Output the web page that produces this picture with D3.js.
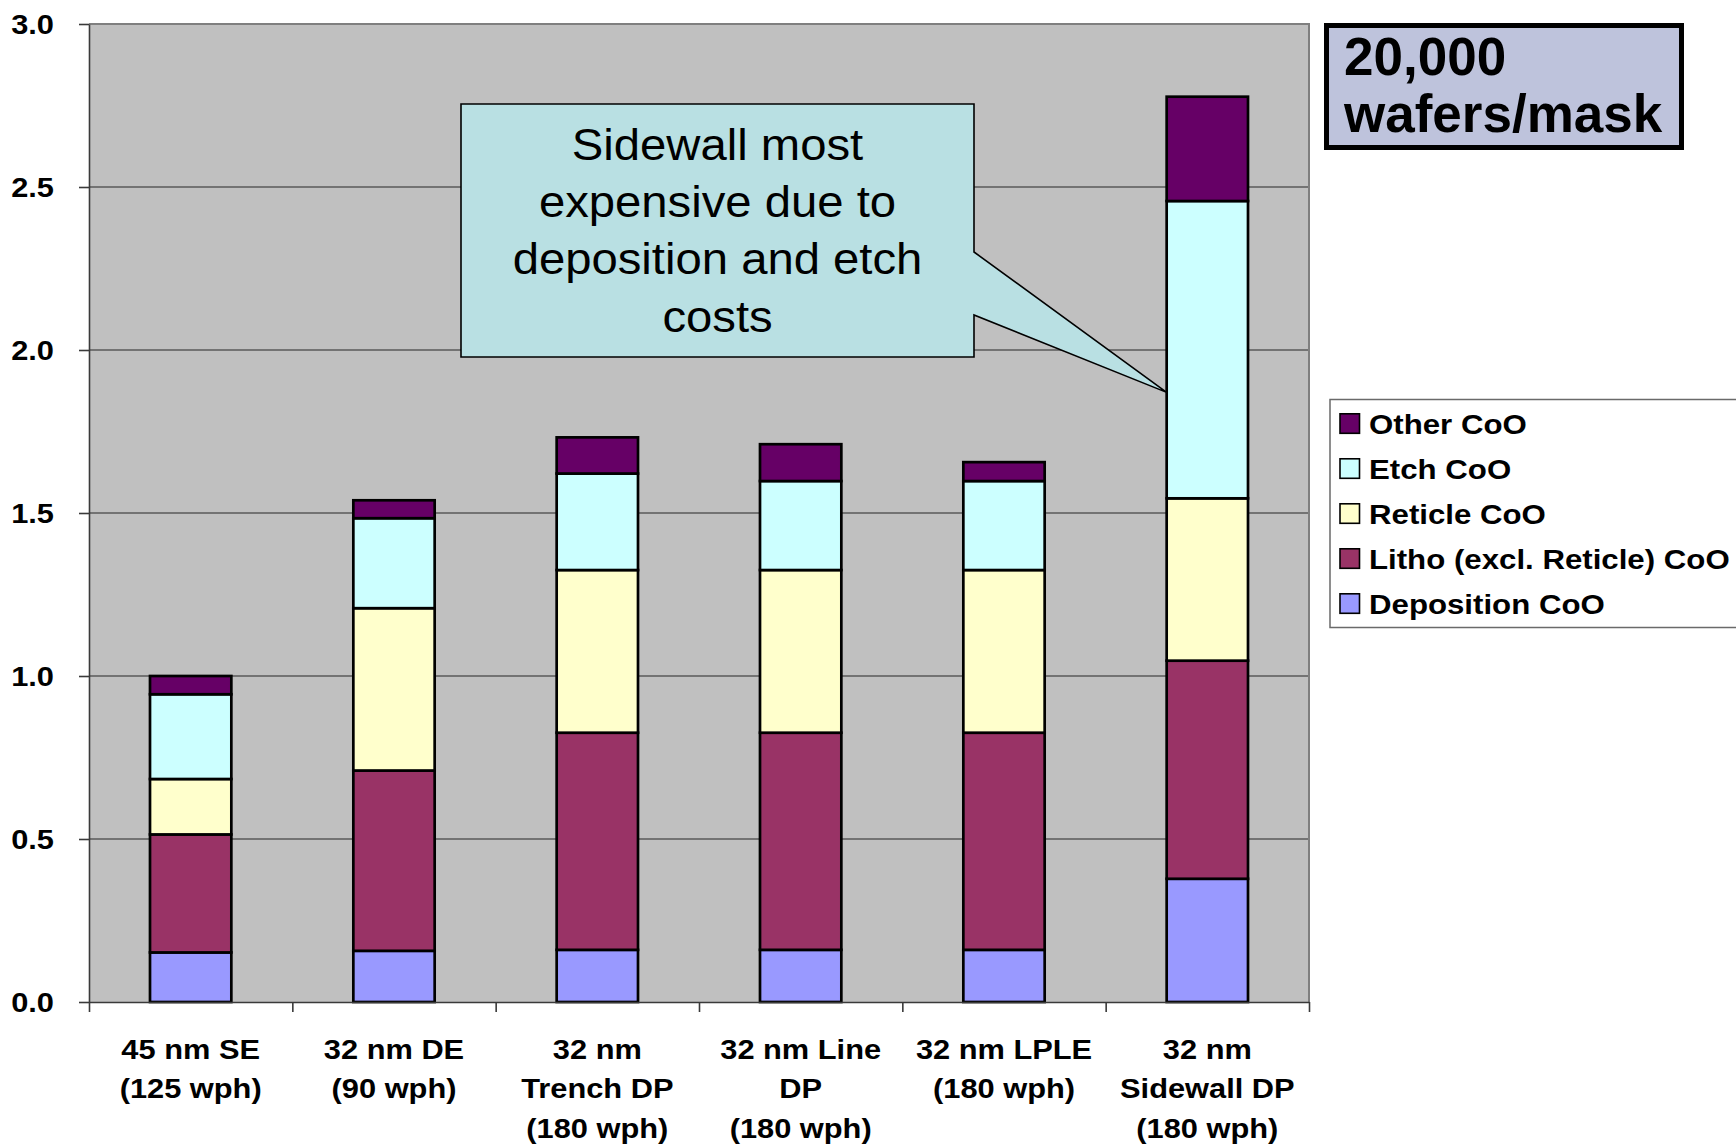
<!DOCTYPE html>
<html>
<head>
<meta charset="utf-8">
<script src="https://cdn.jsdelivr.net/npm/d3@7"></script>
<style>
  body { margin: 0; background: #fff; }
  svg { display: block; }
  text { font-family: "Liberation Sans", Arial, Helvetica, sans-serif; fill: #000; }
</style>
</head>
<body>
<svg id="chart" width="1736" height="1145"></svg>
<script>
// Cost-of-ownership breakdown per patterning option (relative to 45 nm single exposure)
const categories = [
  ["45 nm SE", "(125 wph)"],
  ["32 nm DE", "(90 wph)"],
  ["32 nm", "Trench DP", "(180 wph)"],
  ["32 nm Line", "DP", "(180 wph)"],
  ["32 nm LPLE", "(180 wph)"],
  ["32 nm", "Sidewall DP", "(180 wph)"]
];
const deposition = [0.152, 0.157, 0.160, 0.160, 0.160, 0.378];
const litho      = [0.362, 0.553, 0.666, 0.666, 0.666, 0.669];
const reticle    = [0.170, 0.498, 0.499, 0.499, 0.499, 0.498];
const etch       = [0.260, 0.276, 0.296, 0.273, 0.273, 0.912];
const other      = [0.056, 0.055, 0.111, 0.113, 0.058, 0.320];

const seriesKeys   = ["dep", "litho", "reticle", "etch", "other"];
const seriesNames  = ["Deposition CoO", "Litho (excl. Reticle) CoO", "Reticle CoO", "Etch CoO", "Other CoO"];
const seriesColors = ["#9999FF", "#993366", "#FFFFCC", "#CCFFFF", "#660066"];
const yTicks = [0, 0.5, 1.0, 1.5, 2.0, 2.5, 3.0];

const calloutLines = ["Sidewall most", "expensive due to", "deposition and etch", "costs"];
const noteLines = ["20,000", "wafers/mask"];

const rows = categories.map((c, i) => ({
  idx: i, dep: deposition[i], litho: litho[i], reticle: reticle[i], etch: etch[i], other: other[i]
}));

const svg = d3.select("#chart");
const plot = { left: 89, right: 1309, top: 24, bottom: 1002 };
const stretch = 1.1; // axis and legend lettering is set slightly wide

const x = d3.scaleBand()
  .domain(d3.range(categories.length))
  .range([plot.left, plot.right])
  .paddingInner(0.6)
  .paddingOuter(0.3);
const xEdge = d3.scaleLinear().domain([0, categories.length]).range([plot.left, plot.right]);
const y = d3.scaleLinear().domain([0, 3]).range([plot.bottom, plot.top]);
const color = d3.scaleOrdinal().domain(seriesKeys).range(seriesColors);

// plot area
svg.append("rect")
  .attr("x", plot.left).attr("y", plot.top)
  .attr("width", plot.right - plot.left).attr("height", plot.bottom - plot.top)
  .attr("fill", "#C0C0C0");

// horizontal gridlines
svg.append("g").selectAll("line")
  .data(yTicks.filter(v => v > 0 && v < 3))
  .join("line")
  .attr("x1", plot.left).attr("x2", plot.right)
  .attr("y1", d => y(d)).attr("y2", d => y(d))
  .attr("stroke", "#5a5a5a").attr("stroke-width", 1.3);

// plot border (top & right)
svg.append("path")
  .attr("d", `M${plot.left},${y(3)}H${plot.right}V${plot.bottom}`)
  .attr("fill", "none").attr("stroke", "#7f7f7f").attr("stroke-width", 2);

// stacked bars
const stacked = d3.stack().keys(seriesKeys)(rows);
svg.append("g").selectAll("g")
  .data(stacked)
  .join("g")
  .attr("fill", d => color(d.key))
  .selectAll("rect")
  .data(d => d)
  .join("rect")
  .attr("x", d => x(d.data.idx))
  .attr("width", x.bandwidth())
  .attr("y", d => y(d[1]))
  .attr("height", d => y(d[0]) - y(d[1]))
  .attr("stroke", "#000")
  .attr("stroke-width", 2.7);

// axes
const yAxis = svg.append("g")
  .attr("transform", `translate(${plot.left},0)`)
  .call(d3.axisLeft(y).tickValues(yTicks).tickSize(10).tickSizeOuter(0).tickFormat(""));
const xAxis = svg.append("g")
  .attr("transform", `translate(0,${plot.bottom})`)
  .call(d3.axisBottom(xEdge).tickValues(d3.range(categories.length + 1)).tickSize(10).tickSizeOuter(0).tickFormat(""));
[yAxis, xAxis].forEach(a => {
  a.selectAll("path, line").attr("stroke", "#3a3a3a").attr("stroke-width", 1.6);
});

// y tick labels
svg.append("g").selectAll("text")
  .data(yTicks)
  .join("text")
  .attr("transform", d => `translate(54,${y(d)}) scale(${stretch},1)`)
  .attr("text-anchor", "end")
  .attr("dy", "0.36em")
  .attr("font-size", 28)
  .attr("font-weight", "bold")
  .text(d => d3.format(".1f")(d));

// category labels
const catG = svg.append("g").selectAll("g")
  .data(categories)
  .join("g");
catG.selectAll("text")
  .data((d, i) => d.map((t, j) => ({ t, j, i })))
  .join("text")
  .attr("transform", d => `translate(${x(d.i) + x.bandwidth() / 2},${1058.5 + d.j * 39.8}) scale(${stretch},1)`)
  .attr("text-anchor", "middle")
  .attr("font-size", 28)
  .attr("font-weight", "bold")
  .text(d => d.t);

// legend
const legend = svg.append("g");
legend.append("rect")
  .attr("x", 1330).attr("y", 399.5).attr("width", 430).attr("height", 228)
  .attr("fill", "#fff").attr("stroke", "#6a6a6a").attr("stroke-width", 1.5);
const legendItems = seriesKeys.map((k, i) => ({ k, name: seriesNames[i] })).reverse();
const legRow = legend.selectAll("g.item")
  .data(legendItems)
  .join("g")
  .attr("class", "item")
  .attr("transform", (d, i) => `translate(0,${423.8 + i * 45})`);
legRow.append("rect")
  .attr("x", 1340).attr("y", -10).attr("width", 19.5).attr("height", 19.5)
  .attr("fill", d => color(d.k)).attr("stroke", "#000").attr("stroke-width", 1.6);
legRow.append("text")
  .attr("transform", `translate(1369,0) scale(1.115,1)`)
  .attr("dy", "0.36em")
  .attr("font-size", 28)
  .attr("font-weight", "bold")
  .text(d => d.name);

// callout pointing at the sidewall etch segment
const box = { x0: 461, y0: 104, x1: 974, y1: 357, n0: 252, n1: 315 };
const tip = [x(categories.length - 1), y(1.87)];
svg.append("path")
  .attr("d", `M${box.x0},${box.y0}H${box.x1}V${box.n0}L${tip[0]},${tip[1]}L${box.x1},${box.n1}V${box.y1}H${box.x0}Z`)
  .attr("fill", "#B9E0E3").attr("stroke", "#000").attr("stroke-width", 1.6)
  .attr("stroke-linejoin", "miter");
svg.append("g").selectAll("text")
  .data(calloutLines)
  .join("text")
  .attr("transform", (d, i) => `translate(${(box.x0 + box.x1) / 2},${160 + i * 57.2}) scale(1.05,1)`)
  .attr("text-anchor", "middle")
  .attr("font-size", 45)
  .text(d => d);

// wafers-per-mask note
svg.append("rect")
  .attr("x", 1326.5).attr("y", 25.5).attr("width", 355).attr("height", 122)
  .attr("fill", "#BEC3DC").attr("stroke", "#000").attr("stroke-width", 5);
svg.append("g").selectAll("text")
  .data(noteLines)
  .join("text")
  .attr("x", 1344).attr("y", (d, i) => 75 + i * 56.7)
  .attr("font-size", 53)
  .attr("font-weight", "bold")
  .text(d => d);
</script>
</body>
</html>
